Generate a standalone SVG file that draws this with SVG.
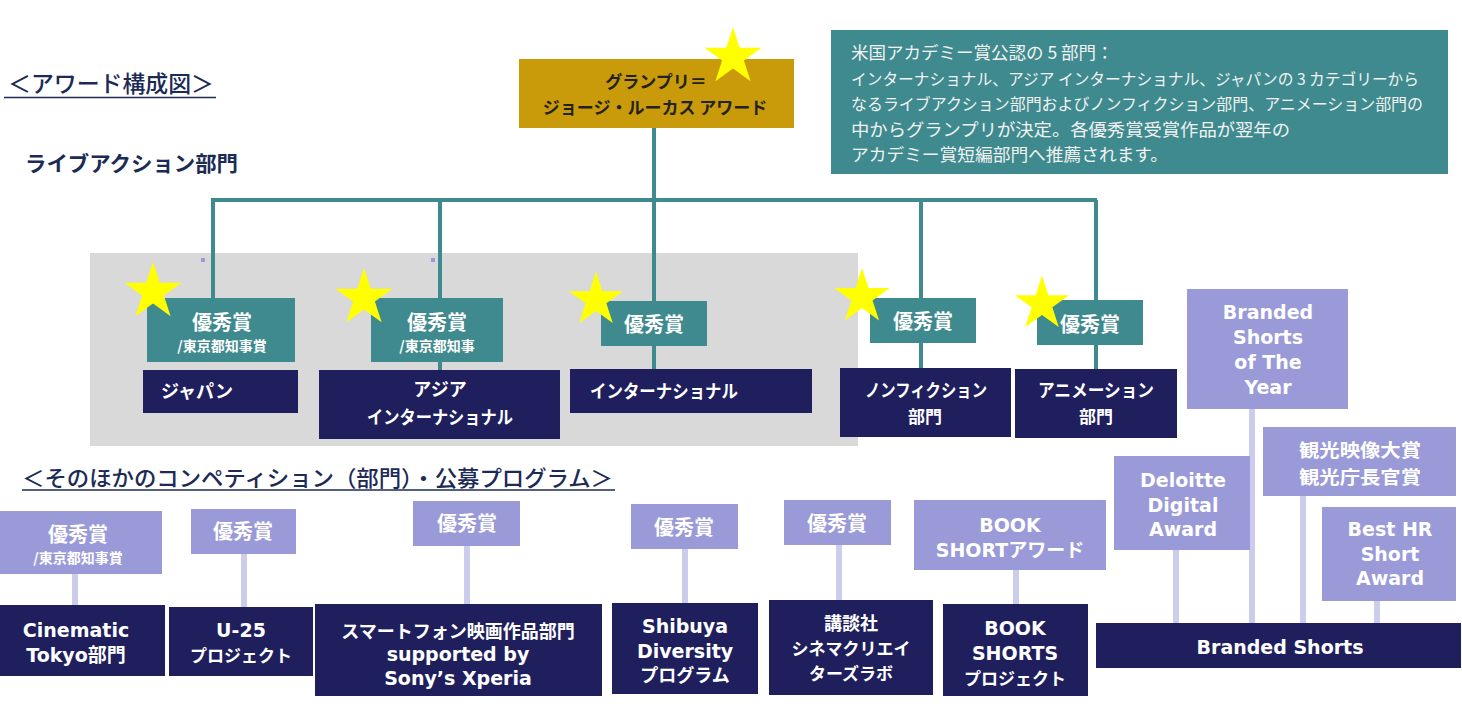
<svg xmlns="http://www.w3.org/2000/svg" width="1462" height="716" viewBox="0 0 1462 716">
<defs>
<style>
.jp{font-family:"Noto Sans CJK JP",sans-serif}
.lat{font-family:"DejaVu Sans","Noto Sans CJK JP",sans-serif;font-weight:700}
.b{font-weight:700}
.w{fill:#ffffff}
.c{text-anchor:middle}
.teal{fill:#3f8a8e}
.navy{fill:#1f1f5e}
.lp{fill:#9a9ad9}
.hd{fill:#1c2a56}
.tl{stroke:#3f8a8e;stroke-width:4;fill:none}
.ll{stroke:#ccccec;stroke-width:6;fill:none}
</style>
<polygon id="star" points="0,-30 6.74,-9.27 28.53,-9.27 10.9,3.54 17.63,24.27 0,11.46 -17.63,24.27 -10.9,3.54 -28.53,-9.27 -6.74,-9.27" fill="#ffff00"/>
</defs>
<rect width="1462" height="716" fill="#ffffff"/>

<g id="background">
<rect x="90" y="253" width="768" height="193" fill="#d9d9d9"/>
<rect x="201" y="258" width="4" height="4" fill="#9a9ad6"/>
<rect x="431" y="258" width="4" height="4" fill="#9a9ad6"/>
</g>

<g id="headings">
<text class="jp hd" x="8" y="92" font-size="23" font-weight="500" textLength="206" lengthAdjust="spacingAndGlyphs">＜アワード構成図＞</text>
<line x1="4" y1="97.5" x2="216" y2="97.5" stroke="#1c2a56" stroke-width="1.6"/>
<text class="jp hd b" x="25" y="171" font-size="21" textLength="213" lengthAdjust="spacingAndGlyphs">ライブアクション部門</text>
<text class="jp hd" x="22" y="486" font-size="22" font-weight="500" textLength="591" lengthAdjust="spacingAndGlyphs">＜そのほかのコンペティション（部門）・公募プログラム＞</text>
<line x1="22" y1="490" x2="615" y2="490" stroke="#1c2a56" stroke-width="1.6"/>
</g>

<g id="connectors">
<path class="tl" d="M654,128 V301 M654,346 V369 M213,200 H1097 M213,198 V298 M440,198 V298 M440,362 V370 M921,200 V298 M921,343 V368 M1096,200 V300 M1096,345 V369"/>
<path class="ll" d="M75,574 V605 M244,554 V607 M467,546 V604 M685,549 V603 M839,545 V600 M1016,570 V604 M1176,550 V623 M1252,409 V623 M1303,496 V623 M1377,601 V623"/>
</g>

<g id="info">
<rect x="831" y="30" width="617" height="144" fill="#3f8a8e"/>
<g class="jp" fill="#f2f2f2">
<text x="851" y="59" font-size="17.5">米国アカデミー賞公認の 5 部門：</text>
<text x="851" y="85" font-size="16" textLength="568" lengthAdjust="spacingAndGlyphs">インターナショナル、アジア インターナショナル、ジャパンの 3 カテゴリーから</text>
<text x="851" y="110" font-size="16" textLength="572" lengthAdjust="spacingAndGlyphs">なるライブアクション部門およびノンフィクション部門、アニメーション部門の</text>
<text x="851" y="136" font-size="17.5" textLength="439" lengthAdjust="spacingAndGlyphs">中からグランプリが決定。各優秀賞受賞作品が翌年の</text>
<text x="851" y="161" font-size="17.5" textLength="317" lengthAdjust="spacingAndGlyphs">アカデミー賞短編部門へ推薦されます。</text>
</g>
</g>

<g id="grandprix">
<rect x="519" y="59" width="275" height="69" fill="#c99a0a"/>
<text class="jp b c" x="656" y="88" font-size="17" fill="#222222">グランプリ＝</text>
<text class="jp b c" x="655" y="114" font-size="17" fill="#222222">ジョージ・ルーカス アワード</text>
<use href="#star" transform="translate(733,57)"/>
</g>

<g id="japan-award">
<rect class="teal" x="147" y="298" width="148" height="64"/>
<text class="jp b w c" x="222" y="330" font-size="20">優秀賞</text>
<text class="jp b w c" x="222" y="351" font-size="14">/東京都知事賞</text>
<use href="#star" transform="translate(153,292)"/>
</g>
<g id="japan">
<rect class="navy" x="143" y="370" width="155" height="43"/>
<text class="jp b w" x="161" y="398" font-size="18">ジャパン</text>
</g>

<g id="asia-award">
<rect class="teal" x="371" y="298" width="132" height="64"/>
<text class="jp b w c" x="437" y="330" font-size="20">優秀賞</text>
<text class="jp b w c" x="437" y="351" font-size="14">/東京都知事</text>
<use href="#star" transform="translate(364,298)"/>
</g>
<g id="asia">
<rect class="navy" x="319" y="370" width="241" height="69"/>
<text class="jp b w c" x="440" y="396" font-size="18">アジア</text>
<text class="jp b w" x="367" y="424" font-size="18" textLength="146" lengthAdjust="spacingAndGlyphs">インターナショナル</text>
</g>

<g id="intl-award">
<rect class="teal" x="601" y="301" width="106" height="45"/>
<text class="jp b w c" x="654" y="332" font-size="20">優秀賞</text>
<use href="#star" transform="translate(596,300) scale(0.95)"/>
</g>
<g id="intl">
<rect class="navy" x="570" y="369" width="242" height="44"/>
<text class="jp b w" x="590" y="398" font-size="18" textLength="148" lengthAdjust="spacingAndGlyphs">インターナショナル</text>
</g>

<g id="nonfiction-award">
<rect class="teal" x="870" y="298" width="106" height="45"/>
<text class="jp b w c" x="923" y="329" font-size="20">優秀賞</text>
<use href="#star" transform="translate(862,297) scale(0.97)"/>
</g>
<g id="nonfiction">
<rect class="navy" x="840" y="368" width="171" height="69"/>
<text class="jp b w" x="865" y="397" font-size="18" textLength="122" lengthAdjust="spacingAndGlyphs">ノンフィクション</text>
<text class="jp b w c" x="925" y="423" font-size="17">部門</text>
</g>

<g id="animation-award">
<rect class="teal" x="1037" y="300" width="106" height="45"/>
<text class="jp b w c" x="1090" y="332" font-size="20">優秀賞</text>
<use href="#star" transform="translate(1042,304) scale(0.95)"/>
</g>
<g id="animation">
<rect class="navy" x="1015" y="369" width="162" height="69"/>
<text class="jp b w" x="1038" y="397" font-size="18" textLength="116" lengthAdjust="spacingAndGlyphs">アニメーション</text>
<text class="jp b w c" x="1096" y="423" font-size="17">部門</text>
</g>

<g id="cinematic-award">
<rect class="lp" x="0" y="511" width="162" height="63"/>
<text class="jp b w c" x="78" y="542" font-size="20">優秀賞</text>
<text class="jp b w c" x="78" y="563" font-size="14">/東京都知事賞</text>
</g>
<g id="cinematic">
<rect class="navy" x="0" y="605" width="165" height="71"/>
<text class="lat w c" x="76" y="637" font-size="19">Cinematic</text>
<text class="lat w c" x="76" y="662" font-size="19">Tokyo部門</text>
</g>

<g id="u25-award">
<rect class="lp" x="191" y="509" width="105" height="45"/>
<text class="jp b w c" x="243" y="539" font-size="20">優秀賞</text>
</g>
<g id="u25">
<rect class="navy" x="169" y="607" width="144" height="69"/>
<text class="lat w c" x="241" y="637" font-size="19">U-25</text>
<text class="jp b w c" x="241" y="662" font-size="17">プロジェクト</text>
</g>

<g id="smartphone-award">
<rect class="lp" x="413" y="501" width="107" height="45"/>
<text class="jp b w c" x="467" y="531" font-size="20">優秀賞</text>
</g>
<g id="smartphone">
<rect class="navy" x="315" y="604" width="287" height="92"/>
<text class="jp b w c" x="458" y="638" font-size="18">スマートフォン映画作品部門</text>
<text class="lat w c" x="458" y="661" font-size="19">supported by</text>
<text class="lat w c" x="458" y="685" font-size="19">Sony’s Xperia</text>
</g>

<g id="shibuya-award">
<rect class="lp" x="631" y="504" width="107" height="45"/>
<text class="jp b w c" x="684" y="535" font-size="20">優秀賞</text>
</g>
<g id="shibuya">
<rect class="navy" x="612" y="603" width="146" height="91"/>
<text class="lat w c" x="685" y="633" font-size="19">Shibuya</text>
<text class="lat w c" x="685" y="658" font-size="19">Diversity</text>
<text class="jp b w c" x="685" y="682" font-size="18">プログラム</text>
</g>

<g id="kodansha-award">
<rect class="lp" x="784" y="500" width="107" height="45"/>
<text class="jp b w c" x="837" y="531" font-size="20">優秀賞</text>
</g>
<g id="kodansha">
<rect class="navy" x="769" y="600" width="164" height="95"/>
<text class="jp b w c" x="851" y="630" font-size="18">講談社</text>
<text class="jp b w c" x="851" y="655" font-size="17">シネマクリエイ</text>
<text class="jp b w c" x="851" y="680" font-size="17">ターズラボ</text>
</g>

<g id="book-award">
<rect class="lp" x="914" y="500" width="192" height="70"/>
<text class="lat w c" x="1010" y="532" font-size="19">BOOK</text>
<text class="lat w c" x="1010" y="557" font-size="19">SHORTアワード</text>
</g>
<g id="book">
<rect class="navy" x="943" y="604" width="145" height="92"/>
<text class="lat w c" x="1015" y="635" font-size="19">BOOK</text>
<text class="lat w c" x="1015" y="660" font-size="19">SHORTS</text>
<text class="jp b w c" x="1015" y="685" font-size="17">プロジェクト</text>
</g>

<g id="bsoty">
<rect class="lp" x="1187" y="289" width="161" height="120"/>
<text class="lat w c" x="1268" y="319" font-size="19">Branded</text>
<text class="lat w c" x="1268" y="344" font-size="19">Shorts</text>
<text class="lat w c" x="1268" y="369" font-size="19">of The</text>
<text class="lat w c" x="1268" y="394" font-size="19">Year</text>
</g>
<g id="deloitte">
<rect class="lp" x="1114" y="456" width="136" height="94"/>
<text class="lat w c" x="1183" y="487" font-size="19">Deloitte</text>
<text class="lat w c" x="1183" y="512" font-size="19">Digital</text>
<text class="lat w c" x="1183" y="536" font-size="19">Award</text>
</g>
<g id="kanko">
<rect class="lp" x="1263" y="427" width="193" height="69"/>
<text class="jp b w c" x="1360" y="457" font-size="18" textLength="122" lengthAdjust="spacingAndGlyphs">観光映像大賞</text>
<text class="jp b w c" x="1360" y="483.5" font-size="18" textLength="122" lengthAdjust="spacingAndGlyphs">観光庁長官賞</text>
</g>
<g id="besthr">
<rect class="lp" x="1322" y="507" width="134" height="94"/>
<text class="lat w c" x="1390" y="536" font-size="19">Best HR</text>
<text class="lat w c" x="1390" y="561" font-size="19">Short</text>
<text class="lat w c" x="1390" y="585" font-size="19">Award</text>
</g>
<g id="branded-shorts">
<rect class="navy" x="1096" y="623" width="365" height="45"/>
<text class="lat w c" x="1280" y="654" font-size="19">Branded Shorts</text>
</g>
</svg>
